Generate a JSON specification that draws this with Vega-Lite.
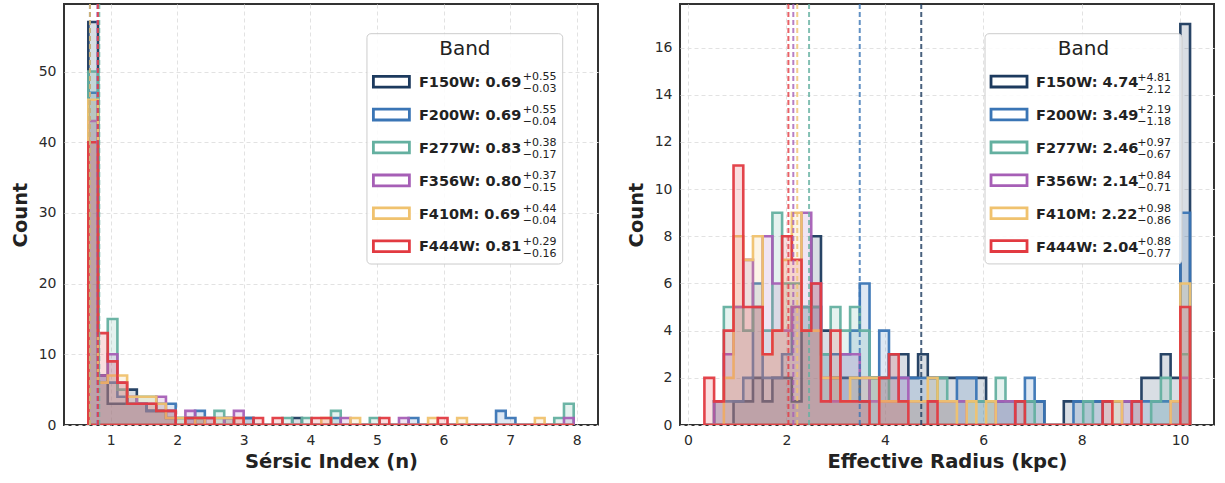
{
  "$schema": "https://vega.github.io/schema/vega-lite/v6.json",
  "background": "white",
  "padding": {"left": 9, "top": 2, "right": 5, "bottom": 0},
  "spacing": 26,
  "config": {
    "font": "DejaVu Sans",
    "view": {"stroke": "#333333", "strokeWidth": 2},
    "axis": {
      "grid": true, "gridDash": [4, 3], "gridColor": "#e2e2e2", "gridWidth": 1,
      "domain": false, "ticks": false,
      "labelFont": "DejaVu Sans", "labelFontSize": 14, "labelColor": "#2a2a2a", "labelPadding": 8,
      "titleFont": "DejaVu Sans", "titleFontSize": 19.5, "titleFontWeight": "bold", "titleColor": "#222222", "titlePadding": 8
    },
    "axisX": {"titlePadding": 5}
  },
  "datasets": {
    "histL": [
      {"x":0.665,"F150W":57,"F200W":47,"F277W":50,"F356W":43,"F410M":46,"F444W":40},
      {"x":0.811,"F150W":7,"F200W":7,"F277W":6,"F356W":7,"F410M":6,"F444W":13},
      {"x":0.957,"F150W":3,"F200W":6,"F277W":15,"F356W":10,"F410M":7,"F444W":9},
      {"x":1.102,"F150W":3,"F200W":4,"F277W":5,"F356W":6,"F410M":7,"F444W":6},
      {"x":1.248,"F150W":5,"F200W":3,"F277W":3,"F356W":4,"F410M":4,"F444W":3},
      {"x":1.394,"F150W":3,"F200W":3,"F277W":4,"F356W":3,"F410M":4,"F444W":3},
      {"x":1.540,"F150W":2,"F200W":2,"F277W":4,"F356W":3,"F410M":4,"F444W":3},
      {"x":1.686,"F150W":2,"F200W":3,"F277W":2,"F356W":4,"F410M":3,"F444W":2},
      {"x":1.831,"F150W":1,"F200W":3,"F277W":2,"F356W":2,"F410M":1,"F444W":2},
      {"x":1.977,"F150W":0,"F200W":1,"F277W":1,"F356W":0,"F410M":1,"F444W":0},
      {"x":2.123,"F150W":1,"F200W":1,"F277W":0,"F356W":2,"F410M":0,"F444W":1},
      {"x":2.269,"F150W":1,"F200W":2,"F277W":1,"F356W":0,"F410M":1,"F444W":1},
      {"x":2.415,"F150W":0,"F200W":0,"F277W":1,"F356W":1,"F410M":0,"F444W":1},
      {"x":2.560,"F150W":0,"F200W":1,"F277W":2,"F356W":0,"F410M":1,"F444W":0},
      {"x":2.706,"F150W":1,"F200W":0,"F277W":1,"F356W":1,"F410M":1,"F444W":0},
      {"x":2.852,"F150W":0,"F200W":0,"F277W":0,"F356W":2,"F410M":1,"F444W":1},
      {"x":2.998,"F150W":1,"F200W":1,"F277W":0,"F356W":0,"F410M":0,"F444W":0},
      {"x":3.144,"F150W":0,"F200W":0,"F277W":0,"F356W":0,"F410M":0,"F444W":1},
      {"x":3.289,"F150W":0,"F200W":0,"F277W":0,"F356W":0,"F410M":0,"F444W":0},
      {"x":3.435,"F150W":0,"F200W":0,"F277W":0,"F356W":0,"F410M":0,"F444W":1},
      {"x":3.581,"F150W":0,"F200W":0,"F277W":1,"F356W":0,"F410M":0,"F444W":0},
      {"x":3.727,"F150W":1,"F200W":0,"F277W":0,"F356W":0,"F410M":0,"F444W":0},
      {"x":3.873,"F150W":0,"F200W":0,"F277W":1,"F356W":0,"F410M":0,"F444W":0},
      {"x":4.018,"F150W":0,"F200W":0,"F277W":0,"F356W":0,"F410M":0,"F444W":1},
      {"x":4.164,"F150W":0,"F200W":0,"F277W":0,"F356W":0,"F410M":1,"F444W":1},
      {"x":4.310,"F150W":0,"F200W":1,"F277W":2,"F356W":0,"F410M":0,"F444W":0},
      {"x":4.456,"F150W":0,"F200W":0,"F277W":0,"F356W":1,"F410M":0,"F444W":0},
      {"x":4.602,"F150W":0,"F200W":0,"F277W":0,"F356W":0,"F410M":1,"F444W":0},
      {"x":4.747,"F150W":0,"F200W":0,"F277W":0,"F356W":0,"F410M":0,"F444W":0},
      {"x":4.893,"F150W":0,"F200W":0,"F277W":1,"F356W":0,"F410M":0,"F444W":0},
      {"x":5.039,"F150W":0,"F200W":0,"F277W":0,"F356W":0,"F410M":0,"F444W":1},
      {"x":5.185,"F150W":0,"F200W":0,"F277W":0,"F356W":0,"F410M":0,"F444W":0},
      {"x":5.331,"F150W":0,"F200W":0,"F277W":0,"F356W":1,"F410M":0,"F444W":0},
      {"x":5.476,"F150W":0,"F200W":1,"F277W":0,"F356W":0,"F410M":0,"F444W":0},
      {"x":5.622,"F150W":0,"F200W":0,"F277W":0,"F356W":0,"F410M":0,"F444W":0},
      {"x":5.768,"F150W":0,"F200W":0,"F277W":0,"F356W":0,"F410M":1,"F444W":0},
      {"x":5.914,"F150W":0,"F200W":0,"F277W":0,"F356W":0,"F410M":0,"F444W":1},
      {"x":6.060,"F150W":0,"F200W":0,"F277W":0,"F356W":0,"F410M":0,"F444W":0},
      {"x":6.205,"F150W":0,"F200W":0,"F277W":0,"F356W":0,"F410M":1,"F444W":0},
      {"x":6.351,"F150W":0,"F200W":0,"F277W":0,"F356W":0,"F410M":0,"F444W":0},
      {"x":6.497,"F150W":0,"F200W":0,"F277W":0,"F356W":0,"F410M":0,"F444W":0},
      {"x":6.643,"F150W":0,"F200W":0,"F277W":0,"F356W":0,"F410M":0,"F444W":0},
      {"x":6.789,"F150W":0,"F200W":2,"F277W":0,"F356W":0,"F410M":0,"F444W":0},
      {"x":6.934,"F150W":0,"F200W":1,"F277W":0,"F356W":0,"F410M":0,"F444W":0},
      {"x":7.080,"F150W":0,"F200W":0,"F277W":0,"F356W":0,"F410M":0,"F444W":0},
      {"x":7.226,"F150W":0,"F200W":0,"F277W":0,"F356W":0,"F410M":0,"F444W":0},
      {"x":7.372,"F150W":0,"F200W":0,"F277W":0,"F356W":0,"F410M":1,"F444W":0},
      {"x":7.518,"F150W":0,"F200W":0,"F277W":0,"F356W":0,"F410M":0,"F444W":0},
      {"x":7.663,"F150W":0,"F200W":0,"F277W":1,"F356W":0,"F410M":0,"F444W":0},
      {"x":7.809,"F150W":0,"F200W":0,"F277W":3,"F356W":1,"F410M":0,"F444W":0},
      {"x":7.955,"F150W":0,"F200W":0,"F277W":0,"F356W":0,"F410M":0,"F444W":0}
    ],
    "histR": [
      {"x":0.333,"F150W":0,"F200W":0,"F277W":0,"F356W":0,"F410M":0,"F444W":2},
      {"x":0.530,"F150W":0,"F200W":1,"F277W":1,"F356W":1,"F410M":0,"F444W":1},
      {"x":0.728,"F150W":0,"F200W":1,"F277W":5,"F356W":3,"F410M":2,"F444W":4},
      {"x":0.925,"F150W":1,"F200W":1,"F277W":5,"F356W":5,"F410M":8,"F444W":11},
      {"x":1.123,"F150W":1,"F200W":2,"F277W":4,"F356W":7,"F410M":7,"F444W":5},
      {"x":1.320,"F150W":2,"F200W":6,"F277W":5,"F356W":5,"F410M":8,"F444W":5},
      {"x":1.517,"F150W":1,"F200W":2,"F277W":4,"F356W":8,"F410M":3,"F444W":3},
      {"x":1.715,"F150W":2,"F200W":2,"F277W":9,"F356W":6,"F410M":4,"F444W":4},
      {"x":1.912,"F150W":2,"F200W":3,"F277W":6,"F356W":4,"F410M":7,"F444W":8},
      {"x":2.110,"F150W":1,"F200W":5,"F277W":6,"F356W":5,"F410M":9,"F444W":7},
      {"x":2.307,"F150W":5,"F200W":4,"F277W":5,"F356W":9,"F410M":4,"F444W":4},
      {"x":2.504,"F150W":8,"F200W":5,"F277W":5,"F356W":6,"F410M":4,"F444W":6},
      {"x":2.702,"F150W":4,"F200W":3,"F277W":3,"F356W":2,"F410M":2,"F444W":1},
      {"x":2.899,"F150W":2,"F200W":3,"F277W":5,"F356W":1,"F410M":2,"F444W":4},
      {"x":3.097,"F150W":2,"F200W":3,"F277W":4,"F356W":3,"F410M":1,"F444W":1},
      {"x":3.294,"F150W":2,"F200W":4,"F277W":5,"F356W":3,"F410M":2,"F444W":1},
      {"x":3.491,"F150W":1,"F200W":6,"F277W":4,"F356W":2,"F410M":2,"F444W":1},
      {"x":3.689,"F150W":2,"F200W":2,"F277W":2,"F356W":1,"F410M":2,"F444W":0},
      {"x":3.886,"F150W":2,"F200W":4,"F277W":2,"F356W":1,"F410M":1,"F444W":2},
      {"x":4.084,"F150W":3,"F200W":2,"F277W":1,"F356W":1,"F410M":1,"F444W":3},
      {"x":4.281,"F150W":3,"F200W":2,"F277W":1,"F356W":2,"F410M":1,"F444W":1},
      {"x":4.478,"F150W":2,"F200W":2,"F277W":1,"F356W":1,"F410M":1,"F444W":0},
      {"x":4.676,"F150W":3,"F200W":2,"F277W":1,"F356W":1,"F410M":1,"F444W":0},
      {"x":4.873,"F150W":2,"F200W":2,"F277W":1,"F356W":1,"F410M":2,"F444W":1},
      {"x":5.071,"F150W":2,"F200W":1,"F277W":2,"F356W":1,"F410M":1,"F444W":0},
      {"x":5.268,"F150W":2,"F200W":1,"F277W":1,"F356W":1,"F410M":1,"F444W":0},
      {"x":5.465,"F150W":2,"F200W":2,"F277W":1,"F356W":1,"F410M":0,"F444W":0},
      {"x":5.663,"F150W":2,"F200W":2,"F277W":1,"F356W":0,"F410M":1,"F444W":0},
      {"x":5.860,"F150W":2,"F200W":1,"F277W":1,"F356W":0,"F410M":0,"F444W":0},
      {"x":6.058,"F150W":1,"F200W":1,"F277W":1,"F356W":0,"F410M":1,"F444W":0},
      {"x":6.255,"F150W":1,"F200W":1,"F277W":2,"F356W":1,"F410M":0,"F444W":0},
      {"x":6.452,"F150W":1,"F200W":1,"F277W":1,"F356W":1,"F410M":0,"F444W":0},
      {"x":6.650,"F150W":1,"F200W":1,"F277W":0,"F356W":0,"F410M":0,"F444W":1},
      {"x":6.847,"F150W":1,"F200W":2,"F277W":1,"F356W":0,"F410M":0,"F444W":0},
      {"x":7.045,"F150W":1,"F200W":1,"F277W":0,"F356W":0,"F410M":0,"F444W":0},
      {"x":7.242,"F150W":0,"F200W":0,"F277W":0,"F356W":0,"F410M":0,"F444W":0},
      {"x":7.439,"F150W":0,"F200W":0,"F277W":0,"F356W":0,"F410M":0,"F444W":0},
      {"x":7.637,"F150W":1,"F200W":0,"F277W":0,"F356W":0,"F410M":0,"F444W":0},
      {"x":7.834,"F150W":1,"F200W":1,"F277W":0,"F356W":0,"F410M":0,"F444W":0},
      {"x":8.032,"F150W":1,"F200W":1,"F277W":1,"F356W":0,"F410M":0,"F444W":0},
      {"x":8.229,"F150W":1,"F200W":1,"F277W":0,"F356W":0,"F410M":0,"F444W":0},
      {"x":8.426,"F150W":1,"F200W":0,"F277W":0,"F356W":0,"F410M":0,"F444W":1},
      {"x":8.624,"F150W":1,"F200W":0,"F277W":0,"F356W":0,"F410M":1,"F444W":0},
      {"x":8.821,"F150W":1,"F200W":0,"F277W":0,"F356W":1,"F410M":0,"F444W":0},
      {"x":9.019,"F150W":1,"F200W":1,"F277W":0,"F356W":0,"F410M":0,"F444W":1},
      {"x":9.216,"F150W":2,"F200W":1,"F277W":0,"F356W":0,"F410M":0,"F444W":0},
      {"x":9.413,"F150W":2,"F200W":1,"F277W":1,"F356W":0,"F410M":0,"F444W":0},
      {"x":9.611,"F150W":3,"F200W":1,"F277W":2,"F356W":0,"F410M":0,"F444W":0},
      {"x":9.808,"F150W":2,"F200W":1,"F277W":1,"F356W":1,"F410M":1,"F444W":0},
      {"x":10.006,"F150W":17,"F200W":9,"F277W":3,"F356W":2,"F410M":6,"F444W":5},
      {"x":10.203,"F150W":0,"F200W":0,"F277W":0,"F356W":0,"F410M":0,"F444W":0}
    ],
    "medL": [
      {"b":"F150W","m":0.69,"p":0.55,"q":-0.03},
      {"b":"F200W","m":0.69,"p":0.55,"q":-0.04},
      {"b":"F277W","m":0.83,"p":0.38,"q":-0.17},
      {"b":"F356W","m":0.80,"p":0.37,"q":-0.15},
      {"b":"F410M","m":0.69,"p":0.44,"q":-0.04},
      {"b":"F444W","m":0.81,"p":0.29,"q":-0.16}
    ],
    "medR": [
      {"b":"F150W","m":4.74,"p":4.81,"q":-2.12},
      {"b":"F200W","m":3.49,"p":2.19,"q":-1.18},
      {"b":"F277W","m":2.46,"p":0.97,"q":-0.67},
      {"b":"F356W","m":2.14,"p":0.84,"q":-0.71},
      {"b":"F410M","m":2.22,"p":0.98,"q":-0.86},
      {"b":"F444W","m":2.04,"p":0.88,"q":-0.77}
    ]
  },
  "hconcat": [
    {
      "width": 534, "height": 421,
      "layer": [
        {
          "data": {"name": "histL"},
          "transform": [{"fold": ["F150W","F200W","F277W","F356W","F410M","F444W"], "as": ["b","n"]}],
          "mark": {"type": "area", "interpolate": "step-after", "fillOpacity": 0.17, "strokeWidth": 2.6, "strokeOpacity": 0.95, "clip": true},
          "encoding": {
            "x": {"field": "x", "type": "quantitative", "scale": {"domain": [0.30, 8.32], "nice": false, "zero": false}, "axis": {"values": [1,2,3,4,5,6,7,8], "format": "d", "title": "Sérsic Index (n)"}},
            "y": {"field": "n", "type": "quantitative", "stack": null, "scale": {"domain": [0, 59.55], "nice": false}, "axis": {"values": [0,10,20,30,40,50], "title": "Count"}},
            "color": {"field": "b", "type": "nominal", "scale": {"domain": ["F150W","F200W","F277W","F356W","F410M","F444W"], "range": ["#1c3a5e","#3a75b5","#64b0a0","#a65fb6","#f0c26e","#e23a41"]}, "legend": null},
            "stroke": {"field": "b", "type": "nominal", "scale": {"domain": ["F150W","F200W","F277W","F356W","F410M","F444W"], "range": ["#1c3a5e","#3a75b5","#64b0a0","#a65fb6","#f0c26e","#e23a41"]}, "legend": null}
          }
        },
        {
          "data": {"name": "medL"},
          "mark": {"type": "rule", "strokeDash": [5, 3], "strokeWidth": 2, "opacity": 0.8},
          "encoding": {
            "x": {"field": "m", "type": "quantitative"},
            "color": {"field": "b", "type": "nominal", "legend": null}
          }
        },
        {
          "data": {"values": [{"t": "Band"}]},
          "mark": {"type": "rect", "fill": "white", "fillOpacity": 0.85, "stroke": "#cccccc", "strokeWidth": 1, "cornerRadius": 4},
          "encoding": {
            "x": {"datum": 4.85, "type": "quantitative"}, "x2": {"datum": 7.79},
            "y": {"datum": 55.35, "type": "quantitative"}, "y2": {"datum": 22.77}
          }
        },
        {
          "data": {"values": [{"t": "Band"}]},
          "mark": {"type": "text", "fontSize": 20, "color": "#222222", "align": "center", "baseline": "alphabetic"},
          "encoding": {
            "x": {"datum": 6.32, "type": "quantitative"},
            "y": {"datum": 52.4, "type": "quantitative"},
            "text": {"field": "t"}
          }
        },
        {
          "data": {"name": "medL"},
          "mark": {"type": "point", "shape": "M-1,-0.3H1V0.3H-1Z", "size": 1296, "filled": false, "fill": "white", "fillOpacity": 1, "strokeWidth": 2.8, "opacity": 1},
          "encoding": {
            "x": {"datum": 5.217, "type": "quantitative"},
            "y": {"datum": 48.56, "type": "quantitative"},
            "yOffset": {"field": "b", "type": "nominal", "scale": {"type": "point", "domain": ["F150W","F200W","F277W","F356W","F410M","F444W"], "range": [0, 164.5], "padding": 0}},
            "stroke": {"field": "b", "type": "nominal", "legend": null}
          }
        },
        {
          "data": {"name": "medL"},
          "mark": {"type": "text", "fontSize": 14.5, "fontWeight": "bold", "color": "#222222", "align": "left", "baseline": "alphabetic", "text": {"expr": "datum.b + ': ' + format(datum.m, '.2f')"}},
          "encoding": {
            "x": {"datum": 5.63, "type": "quantitative"},
            "y": {"datum": 47.81, "type": "quantitative"},
            "yOffset": {"field": "b", "type": "nominal", "scale": {"type": "point", "domain": ["F150W","F200W","F277W","F356W","F410M","F444W"], "range": [0, 164.5], "padding": 0}}
          }
        },
        {
          "data": {"name": "medL"},
          "mark": {"type": "text", "fontSize": 11, "color": "#222222", "align": "left", "baseline": "alphabetic", "dy": -6.5},
          "encoding": {
            "x": {"datum": 7.19, "type": "quantitative"},
            "y": {"datum": 47.81, "type": "quantitative"},
            "yOffset": {"field": "b", "type": "nominal", "scale": {"type": "point", "domain": ["F150W","F200W","F277W","F356W","F410M","F444W"], "range": [0, 164.5], "padding": 0}},
            "text": {"field": "p", "type": "quantitative", "format": "+.2f"}
          }
        },
        {
          "data": {"name": "medL"},
          "mark": {"type": "text", "fontSize": 11, "color": "#222222", "align": "left", "baseline": "alphabetic", "dy": 5.5},
          "encoding": {
            "x": {"datum": 7.19, "type": "quantitative"},
            "y": {"datum": 47.81, "type": "quantitative"},
            "yOffset": {"field": "b", "type": "nominal", "scale": {"type": "point", "domain": ["F150W","F200W","F277W","F356W","F410M","F444W"], "range": [0, 164.5], "padding": 0}},
            "text": {"field": "q", "type": "quantitative", "format": "+.2f"}
          }
        }
      ]
    },
    {
      "width": 534, "height": 421,
      "layer": [
        {
          "data": {"name": "histR"},
          "transform": [{"fold": ["F150W","F200W","F277W","F356W","F410M","F444W"], "as": ["b","n"]}],
          "mark": {"type": "area", "interpolate": "step-after", "fillOpacity": 0.17, "strokeWidth": 2.6, "strokeOpacity": 0.95, "clip": true},
          "encoding": {
            "x": {"field": "x", "type": "quantitative", "scale": {"domain": [-0.163, 10.69], "nice": false, "zero": false}, "axis": {"values": [0,2,4,6,8,10], "format": "d", "title": "Effective Radius (kpc)"}},
            "y": {"field": "n", "type": "quantitative", "stack": null, "scale": {"domain": [0, 17.85], "nice": false}, "axis": {"values": [0,2,4,6,8,10,12,14,16], "title": "Count"}},
            "color": {"field": "b", "type": "nominal", "scale": {"domain": ["F150W","F200W","F277W","F356W","F410M","F444W"], "range": ["#1c3a5e","#3a75b5","#64b0a0","#a65fb6","#f0c26e","#e23a41"]}, "legend": null},
            "stroke": {"field": "b", "type": "nominal", "scale": {"domain": ["F150W","F200W","F277W","F356W","F410M","F444W"], "range": ["#1c3a5e","#3a75b5","#64b0a0","#a65fb6","#f0c26e","#e23a41"]}, "legend": null}
          }
        },
        {
          "data": {"name": "medR"},
          "mark": {"type": "rule", "strokeDash": [5, 3], "strokeWidth": 2, "opacity": 0.8},
          "encoding": {
            "x": {"field": "m", "type": "quantitative"},
            "color": {"field": "b", "type": "nominal", "legend": null}
          }
        },
        {
          "data": {"values": [{"t": "Band"}]},
          "mark": {"type": "rect", "fill": "white", "fillOpacity": 0.85, "stroke": "#cccccc", "strokeWidth": 1, "cornerRadius": 4},
          "encoding": {
            "x": {"datum": 6.036, "type": "quantitative"}, "x2": {"datum": 10.04},
            "y": {"datum": 16.59, "type": "quantitative"}, "y2": {"datum": 6.83}
          }
        },
        {
          "data": {"values": [{"t": "Band"}]},
          "mark": {"type": "text", "fontSize": 20, "color": "#222222", "align": "center", "baseline": "alphabetic"},
          "encoding": {
            "x": {"datum": 8.038, "type": "quantitative"},
            "y": {"datum": 15.7, "type": "quantitative"},
            "text": {"field": "t"}
          }
        },
        {
          "data": {"name": "medR"},
          "mark": {"type": "point", "shape": "M-1,-0.3H1V0.3H-1Z", "size": 1296, "filled": false, "fill": "white", "fillOpacity": 1, "strokeWidth": 2.8, "opacity": 1},
          "encoding": {
            "x": {"datum": 6.524, "type": "quantitative"},
            "y": {"datum": 14.56, "type": "quantitative"},
            "yOffset": {"field": "b", "type": "nominal", "scale": {"type": "point", "domain": ["F150W","F200W","F277W","F356W","F410M","F444W"], "range": [0, 164.5], "padding": 0}},
            "stroke": {"field": "b", "type": "nominal", "legend": null}
          }
        },
        {
          "data": {"name": "medR"},
          "mark": {"type": "text", "fontSize": 14.5, "fontWeight": "bold", "color": "#222222", "align": "left", "baseline": "alphabetic", "text": {"expr": "datum.b + ': ' + format(datum.m, '.2f')"}},
          "encoding": {
            "x": {"datum": 7.073, "type": "quantitative"},
            "y": {"datum": 14.33, "type": "quantitative"},
            "yOffset": {"field": "b", "type": "nominal", "scale": {"type": "point", "domain": ["F150W","F200W","F277W","F356W","F410M","F444W"], "range": [0, 164.5], "padding": 0}}
          }
        },
        {
          "data": {"name": "medR"},
          "mark": {"type": "text", "fontSize": 11, "color": "#222222", "align": "left", "baseline": "alphabetic", "dy": -6.5},
          "encoding": {
            "x": {"datum": 9.13, "type": "quantitative"},
            "y": {"datum": 14.33, "type": "quantitative"},
            "yOffset": {"field": "b", "type": "nominal", "scale": {"type": "point", "domain": ["F150W","F200W","F277W","F356W","F410M","F444W"], "range": [0, 164.5], "padding": 0}},
            "text": {"field": "p", "type": "quantitative", "format": "+.2f"}
          }
        },
        {
          "data": {"name": "medR"},
          "mark": {"type": "text", "fontSize": 11, "color": "#222222", "align": "left", "baseline": "alphabetic", "dy": 5.5},
          "encoding": {
            "x": {"datum": 9.13, "type": "quantitative"},
            "y": {"datum": 14.33, "type": "quantitative"},
            "yOffset": {"field": "b", "type": "nominal", "scale": {"type": "point", "domain": ["F150W","F200W","F277W","F356W","F410M","F444W"], "range": [0, 164.5], "padding": 0}},
            "text": {"field": "q", "type": "quantitative", "format": "+.2f"}
          }
        }
      ]
    }
  ]
}
